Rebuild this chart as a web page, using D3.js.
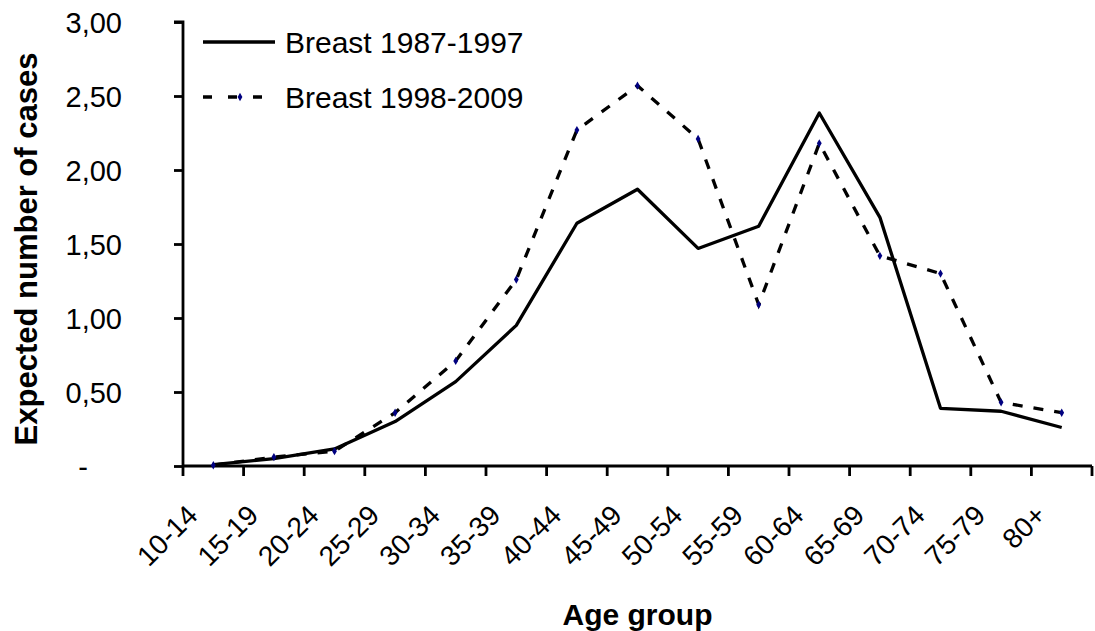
<!DOCTYPE html>
<html>
<head>
<meta charset="utf-8">
<script src="https://cdn.jsdelivr.net/npm/d3@7"></script>
<style>
  body { margin: 0; background: #fff; }
  text { font-family: "Liberation Sans", Arial, sans-serif; fill: #000; }
</style>
</head>
<body>
<div id="chart"></div>
<script>
// data
const ageGroups = ["10-14", "15-19", "20-24", "25-29", "30-34", "35-39", "40-44", "45-49",
  "50-54", "55-59", "60-64", "65-69", "70-74", "75-79", "80+"];
const breast8797 = [0.01, 0.05, 0.115, 0.30, 0.57, 0.95, 1.64, 1.87, 1.47, 1.62, 2.385, 1.68, 0.39, 0.37, 0.26];
const breast9809 = [0.005, 0.06, 0.10, 0.36, 0.71, 1.26, 2.27, 2.57, 2.21, 1.09, 2.18, 1.42, 1.30, 0.43, 0.36];
const yTicks = [0, 0.5, 1, 1.5, 2, 2.5, 3];
const seriesNames = ["Breast 1987-1997", "Breast 1998-2009"];

const W = 1095, H = 631;
const margin = { top: 22, right: 3, bottom: 165, left: 183 };
const width = W - margin.left - margin.right;
const height = H - margin.top - margin.bottom;

const svg = d3.select("#chart").append("svg")
  .attr("width", W)
  .attr("height", H);

const g = svg.append("g")
  .attr("transform", `translate(${margin.left}, ${margin.top})`);

// scales
const x = d3.scaleBand().domain(ageGroups).range([0, width]);
const y = d3.scaleLinear().domain([0, 3]).range([height, 0]);
const cx = d => x(d) + x.bandwidth() / 2;

// y axis
const yAxis = g.append("g")
  .call(d3.axisLeft(y).tickValues(yTicks).tickSize(9).tickPadding(0)
    .tickFormat(d => d === 0 ? "-" : d3.format(".2f")(d).replace(".", ",")));
yAxis.select(".domain").attr("stroke-width", 2.8).attr("d", `M-9,${y(3)}H0V${height}`);
yAxis.selectAll(".tick line").attr("stroke-width", 2.8);
yAxis.selectAll(".tick text")
  .style("font-size", "29px")
  .attr("font-family", null)
  .attr("x", d => d === 0 ? -95 : -61)
  .attr("dy", "0.35em");

// x axis: ticks on band edges
const xAxis = g.append("g").attr("transform", `translate(0, ${height})`);
xAxis.append("line")
  .attr("x1", 0).attr("x2", width)
  .attr("y1", 0).attr("y2", 0)
  .attr("stroke", "#000").attr("stroke-width", 2.8);
const edges = ageGroups.map(d => x(d)).concat([width]);
xAxis.selectAll(".xtick").data(edges).enter().append("line")
  .attr("x1", d => d).attr("x2", d => d)
  .attr("y1", 0).attr("y2", 10)
  .attr("stroke", "#000").attr("stroke-width", 2.8);
xAxis.selectAll(".xlab").data(ageGroups).enter().append("text")
  .attr("transform", d => `translate(${cx(d) - 14}, 51) rotate(-45)`)
  .attr("text-anchor", "end")
  .style("font-size", "28px")
  .text(d => d);

// lines
const line = d3.line()
  .x((d, i) => cx(ageGroups[i]))
  .y(d => y(d));

g.append("path")
  .datum(breast8797)
  .attr("fill", "none")
  .attr("stroke", "#000")
  .attr("stroke-width", 3.3)
  .attr("stroke-linejoin", "round")
  .attr("d", line);

g.append("path")
  .datum(breast9809)
  .attr("fill", "none")
  .attr("stroke", "#000")
  .attr("stroke-width", 3.3)
  .attr("stroke-dasharray", "10,11")
  .attr("d", line);

const diamond = d3.symbol().type(d3.symbolDiamond).size(20);
g.selectAll(".dot2").data(breast9809).enter().append("path")
  .attr("transform", (d, i) => `translate(${cx(ageGroups[i])}, ${y(d)})`)
  .attr("d", diamond)
  .attr("fill", "#000080");

// legend
const legend = svg.append("g").attr("transform", "translate(203, 42)");
const rowGap = 55;
legend.append("line")
  .attr("x1", 0).attr("x2", 72).attr("y1", 0).attr("y2", 0)
  .attr("stroke", "#000").attr("stroke-width", 3.3);
legend.append("line")
  .attr("x1", 0).attr("x2", 72).attr("y1", rowGap).attr("y2", rowGap)
  .attr("stroke", "#000").attr("stroke-width", 3.3)
  .attr("stroke-dasharray", "9,16");
legend.append("path")
  .attr("transform", `translate(37, ${rowGap})`)
  .attr("d", diamond)
  .attr("fill", "#000080");
legend.selectAll(".leg").data(seriesNames).enter().append("text")
  .attr("x", 82)
  .attr("y", (d, i) => i * rowGap)
  .attr("dy", "0.35em")
  .style("font-size", "30px")
  .text(d => d);

// axis titles
svg.append("text")
  .attr("x", margin.left + width / 2)
  .attr("y", 625)
  .attr("text-anchor", "middle")
  .style("font-size", "30px")
  .style("font-weight", "bold")
  .text("Age group");

svg.append("text")
  .attr("transform", "translate(37, 249) rotate(-90)")
  .attr("text-anchor", "middle")
  .style("font-size", "31px")
  .style("font-weight", "bold")
  .text("Expected number of cases");
</script>
</body>
</html>
